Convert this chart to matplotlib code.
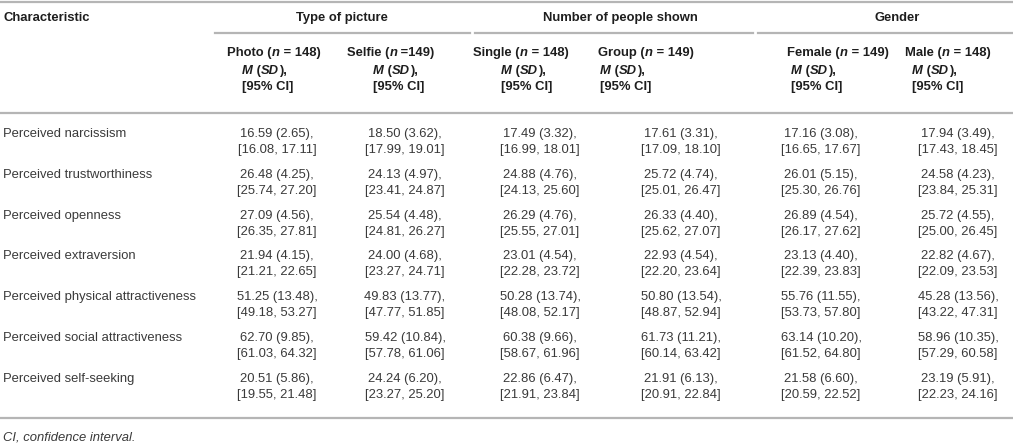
import matplotlib
matplotlib.use("Agg")
import matplotlib.pyplot as plt
from matplotlib.lines import Line2D

# table content
characteristics = [
    "Perceived narcissism",
    "Perceived trustworthiness",
    "Perceived openness",
    "Perceived extraversion",
    "Perceived physical attractiveness",
    "Perceived social attractiveness",
    "Perceived self-seeking",
]
groups = ["Type of picture", "Number of people shown", "Gender"]
col_names = ["Photo", "Selfie", "Single", "Group", "Female", "Male"]
col_n = ["= 148", "=149", "= 148", "= 149", "= 149", "= 148"]

# (mean, sd, ci low, ci high)
photo = [(16.59, 2.65, 16.08, 17.11), (26.48, 4.25, 25.74, 27.20), (27.09, 4.56, 26.35, 27.81),
         (21.94, 4.15, 21.21, 22.65), (51.25, 13.48, 49.18, 53.27), (62.70, 9.85, 61.03, 64.32),
         (20.51, 5.86, 19.55, 21.48)]
selfie = [(18.50, 3.62, 17.99, 19.01), (24.13, 4.97, 23.41, 24.87), (25.54, 4.48, 24.81, 26.27),
          (24.00, 4.68, 23.27, 24.71), (49.83, 13.77, 47.77, 51.85), (59.42, 10.84, 57.78, 61.06),
          (24.24, 6.20, 23.27, 25.20)]
single = [(17.49, 3.32, 16.99, 18.01), (24.88, 4.76, 24.13, 25.60), (26.29, 4.76, 25.55, 27.01),
          (23.01, 4.54, 22.28, 23.72), (50.28, 13.74, 48.08, 52.17), (60.38, 9.66, 58.67, 61.96),
          (22.86, 6.47, 21.91, 23.84)]
group = [(17.61, 3.31, 17.09, 18.10), (25.72, 4.74, 25.01, 26.47), (26.33, 4.40, 25.62, 27.07),
         (22.93, 4.54, 22.20, 23.64), (50.80, 13.54, 48.87, 52.94), (61.73, 11.21, 60.14, 63.42),
         (21.91, 6.13, 20.91, 22.84)]
female = [(17.16, 3.08, 16.65, 17.67), (26.01, 5.15, 25.30, 26.76), (26.89, 4.54, 26.17, 27.62),
          (23.13, 4.40, 22.39, 23.83), (55.76, 11.55, 53.73, 57.80), (63.14, 10.20, 61.52, 64.80),
          (21.58, 6.60, 20.59, 22.52)]
male = [(17.94, 3.49, 17.43, 18.45), (24.58, 4.23, 23.84, 25.31), (25.72, 4.55, 25.00, 26.45),
        (22.82, 4.67, 22.09, 23.53), (45.28, 13.56, 43.22, 47.31), (58.96, 10.35, 57.29, 60.58),
        (23.19, 5.91, 22.23, 24.16)]
columns = [photo, selfie, single, group, female, male]

W, H = 1013, 448
FONT = "Liberation Sans"
FS = 9.4
HEAD = "#1e1e1e"
TXT = "#3a3a3a"
LINE = "#b5b5b5"

fig = plt.figure(figsize=(W / 100, H / 100), dpi=100)
fig.patch.set_facecolor("white")
renderer = fig.canvas.get_renderer()


def fx(x):
    return x / W


def fy(y):
    return 1 - y / H


def hline(x0, x1, y, lw=1.6):
    fig.add_artist(Line2D([fx(x0), fx(x1)], [fy(y), fy(y)], color=LINE, lw=lw))


def runs(x, y, parts, ha="left"):
    # parts: list of (text, weight, style); drawn side by side
    arts = []
    cur = x
    for s, w, st in parts:
        t = fig.text(fx(cur), fy(y), s, fontsize=FS, family=FONT, weight=w,
                     style=st, color=HEAD, va="center", ha="left")
        bb = t.get_window_extent(renderer)
        cur += bb.width
        arts.append(t)
    if ha == "center":
        shift = (cur - x) / 2
        for t in arts:
            px = t.get_position()[0] * W - shift
            t.set_x(fx(px))


# rules
hline(0, W, 2)
hline(215, 470, 33)
hline(475, 753, 33)
hline(758, W, 33)
hline(0, W, 113)
hline(0, W, 418)

# header
runs(3, 18, [("Characteristic", "bold", "normal")])
group_cx = [342, 620, 897]
for g, cx in zip(groups, group_cx):
    runs(cx, 18, [(g, "bold", "normal")], ha="center")

head_x = [227, 347, 473, 598, 787, 905]
sub_x = [242, 373, 501, 600, 791, 912]
for name, n, hx, sx in zip(col_names, col_n, head_x, sub_x):
    runs(hx, 53, [(name + " (", "bold", "normal"), ("n", "bold", "italic"),
                  (" " + n + ")", "bold", "normal")])
    runs(sx, 71, [("M", "bold", "italic"), (" (", "bold", "normal"),
                  ("SD", "bold", "italic"), ("),", "bold", "normal")])
    runs(sx, 87, [("[95% CI]", "bold", "normal")])

# body
data_cx = [277, 405, 540, 681, 821, 958]
row_y0 = 134
row_step = 40.8
for i, label in enumerate(characteristics):
    y = row_y0 + i * row_step
    fig.text(fx(3), fy(y), label, fontsize=FS, family=FONT, color=TXT, va="center")
    for col, cx in zip(columns, data_cx):
        m, sd, lo, hi = col[i]
        fig.text(fx(cx), fy(y), f"{m:.2f} ({sd:.2f}),", fontsize=FS, family=FONT,
                 color=TXT, va="center", ha="center")
        fig.text(fx(cx), fy(y + 16), f"[{lo:.2f}, {hi:.2f}]", fontsize=FS, family=FONT,
                 color=TXT, va="center", ha="center")

fig.text(fx(3), fy(437), "CI, confidence interval.", fontsize=FS, family=FONT,
         style="italic", color=TXT, va="center")

fig.savefig("out.png", dpi=100)
